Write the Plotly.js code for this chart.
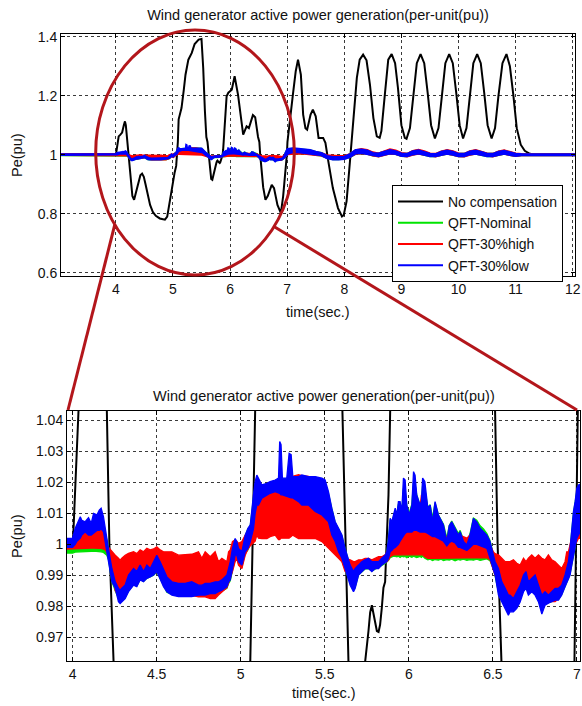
<!DOCTYPE html>
<html>
<head>
<meta charset="utf-8">
<script src="https://cdn.plot.ly/plotly-3.0.1.min.js"></script>
<style>html,body{margin:0;padding:0;background:#fff;}#chart{width:582px;height:706px;}</style>
</head>
<body>
<div id="chart"></div>
<script>
// ---- QFT controller traces: shared time base, upper/lower envelope of each noisy trace ----
const time = [3.04,3.5,3.97,4.0,4.016,4.026,4.046,4.055,4.075,4.095,
4.111,4.125,4.145,4.159,4.170,4.184,4.194,4.204,4.214,4.234,
4.254,4.273,4.283,4.293,4.313,4.333,4.363,4.382,4.402,4.422,
4.442,4.462,4.482,4.501,4.521,4.541,4.561,4.591,4.630,4.670,
4.709,4.749,4.769,4.789,4.819,4.848,4.868,4.888,4.918,4.928,
4.938,4.951,4.967,4.977,4.987,5.007,5.027,5.043,5.057,5.076,
5.086,5.096,5.106,5.126,5.156,5.175,5.205,5.225,5.232,5.240,
5.248,5.274,5.288,5.300,5.310,5.344,5.364,5.403,5.443,5.483,
5.502,5.522,5.542,5.562,5.582,5.602,5.621,5.651,5.671,5.681,
5.701,5.720,5.740,5.760,5.780,5.800,5.820,5.839,5.859,5.869,
5.879,5.889,5.899,5.909,5.919,5.929,5.938,5.948,5.958,5.968,
5.978,5.988,6.002,6.018,6.028,6.037,6.047,6.067,6.075,6.082,
6.095,6.113,6.127,6.141,6.156,6.176,6.192,6.206,6.226,6.240,
6.255,6.275,6.295,6.305,6.325,6.345,6.364,6.384,6.404,6.424,
6.444,6.464,6.483,6.503,6.513,6.533,6.553,6.573,6.592,6.602,
6.622,6.642,6.662,6.682,6.697,6.711,6.731,6.751,6.771,6.791,
6.810,6.830,6.850,6.870,6.890,6.909,6.929,6.939,6.949,6.959,
6.969,6.979,6.989,6.999,7.009,7.020,
7.05,7.1,7.2,7.3,7.4,7.5,7.6,7.7,7.8,7.9,8.0,8.1,8.2,8.3,8.4,8.5,8.6,8.7,8.8,8.9,
9.0,9.1,9.2,9.3,9.4,9.5,9.6,9.7,9.8,9.9,10.0,10.1,10.2,10.3,10.4,10.5,10.6,10.7,10.8,10.9,
11.0,11.1,11.2,11.5,12.04];

const lowHi = [1.0015,1.0015,1.0019,1.0020,1.0052,1.0065,1.0089,1.0078,1.0073,1.0086,
1.0068,1.0100,1.0095,1.0111,1.0117,1.0089,1.0052,1.0009,0.9985,0.9922,
0.9879,0.9858,0.9852,0.9858,0.9869,0.9901,0.9922,0.9912,0.9933,0.9912,
0.9933,0.9922,0.9944,0.9965,0.9944,0.9922,0.9895,0.9879,0.9874,0.9874,
0.9879,0.9868,0.9868,0.9874,0.9874,0.9879,0.9879,0.9885,0.9901,0.9922,
0.9944,0.9987,1.0019,1.0009,0.9987,0.9976,1.0030,1.0052,1.0063,1.0160,
1.0203,1.0224,1.0214,1.0192,1.0197,1.0203,1.0208,1.0214,1.0332,1.0322,
1.0214,1.0214,1.0294,1.0290,1.0219,1.0219,1.0224,1.0219,1.0219,1.0214,
1.0208,1.0170,1.0117,1.0073,1.0052,1.0030,0.9987,0.9933,0.9912,0.9922,
0.9933,0.9944,0.9950,0.9955,0.9944,0.9944,0.9944,0.9955,0.9965,0.9976,
1.0019,1.0084,1.0073,1.0095,1.0117,1.0095,1.0138,1.0138,1.0106,1.0214,
1.0208,1.0127,1.0095,1.0127,1.0235,1.0224,1.0160,1.0127,1.0140,1.0214,
1.0203,1.0117,1.0127,1.0073,1.0138,1.0095,1.0075,1.0063,1.0009,1.0060,
1.0073,1.0052,1.0030,1.0041,1.0009,0.9998,1.0030,1.0084,1.0073,1.0052,
1.0041,1.0030,1.0009,0.9966,0.9944,0.9922,0.9879,0.9858,0.9836,0.9836,
0.9825,0.9847,0.9868,0.9901,0.9912,0.9879,0.9890,0.9901,0.9868,0.9836,
0.9847,0.9836,0.9847,0.9858,0.9858,0.9868,0.9901,0.9920,0.9944,0.9987,
1.0052,1.0106,1.0138,1.0181,1.0192,1.0195,
1.021,1.022,1.020,1.018,1.016,1.010,1.006,0.996,0.992,0.992,0.993,1.002,1.016,1.018,1.014,1.006,1.004,1.010,1.016,1.012,
1.004,1.003,1.012,1.015,1.010,1.003,1.002,1.010,1.014,1.010,1.003,1.003,1.011,1.014,1.009,1.003,1.003,1.010,1.013,1.008,
1.003,1.002,1.0015,1.0015,1.0015];

const lowLo = [0.9990,0.9990,0.9992,0.9990,1.0000,1.0010,1.0020,1.0030,1.0041,1.0030,
1.0030,1.0035,1.0045,1.0045,1.0050,1.0040,1.0010,0.9980,0.9944,0.9879,
0.9858,0.9815,0.9809,0.9815,0.9825,0.9847,0.9868,0.9863,0.9885,0.9879,
0.9890,0.9895,0.9901,0.9912,0.9890,0.9863,0.9847,0.9836,0.9831,0.9831,
0.9831,0.9836,0.9836,0.9836,0.9841,0.9841,0.9847,0.9852,0.9863,0.9879,
0.9885,0.9922,0.9965,0.9965,0.9944,0.9933,0.9976,0.9987,1.0009,1.0050,
1.0100,1.0127,1.0127,1.0149,1.0160,1.0165,1.0170,1.0165,1.0165,1.0160,
1.0160,1.0155,1.0152,1.0150,1.0150,1.0138,1.0127,1.0127,1.0106,1.0095,
1.0084,1.0073,1.0030,1.0009,0.9976,0.9955,0.9922,0.9868,0.9847,0.9858,
0.9901,0.9912,0.9922,0.9922,0.9912,0.9922,0.9922,0.9933,0.9940,0.9944,
0.9955,0.9976,0.9980,0.9987,0.9990,0.9995,1.0000,1.0010,1.0020,1.0030,
1.0035,1.0040,1.0040,1.0040,1.0045,1.0045,1.0045,1.0040,1.0040,1.0040,
1.0040,1.0035,1.0030,1.0025,1.0025,1.0020,1.0015,1.0010,0.9995,1.0005,
1.0010,1.0005,0.9990,0.9990,0.9985,0.9980,0.9990,1.0000,1.0000,0.9995,
0.9990,0.9987,0.9955,0.9922,0.9901,0.9836,0.9814,0.9793,0.9771,0.9782,
0.9782,0.9793,0.9814,0.9847,0.9858,0.9836,0.9847,0.9836,0.9814,0.9775,
0.9803,0.9810,0.9814,0.9820,0.9820,0.9836,0.9863,0.9875,0.9890,0.9901,
0.9933,0.9966,0.9987,1.0019,1.0030,1.0040,
1.006,1.008,1.008,1.006,1.004,1.000,0.998,0.988,0.984,0.984,0.985,0.992,1.004,1.006,1.003,0.998,0.995,1.000,1.004,1.002,
0.996,0.995,1.001,1.004,1.000,0.995,0.995,1.000,1.003,1.000,0.995,0.995,1.001,1.003,1.000,0.995,0.995,1.000,1.003,0.999,
0.996,0.998,0.9985,0.9985,0.9985];

const highHi = [1.0020,1.0020,1.0012,1.0015,1.0030,1.0045,1.0060,1.0055,1.0050,1.0060,
1.0050,1.0065,1.0060,1.0070,1.0070,1.0060,1.0030,1.0000,0.9990,0.9976,
0.9965,0.9955,0.9949,0.9955,0.9965,0.9971,0.9976,0.9970,0.9982,0.9976,
0.9987,0.9982,0.9985,0.9992,0.9982,0.9976,0.9976,0.9976,0.9965,0.9966,
0.9968,0.9976,0.9955,0.9976,0.9960,0.9976,0.9944,0.9955,0.9944,0.9976,
0.9982,1.0009,1.0015,1.0010,1.0003,1.0009,1.0030,1.0040,1.0060,1.0100,
1.0140,1.0160,1.0170,1.0160,1.0165,1.0170,1.0180,1.0180,1.0180,1.0180,
1.0185,1.0190,1.0195,1.0200,1.0220,1.0225,1.0222,1.0220,1.0200,1.0190,
1.0170,1.0150,1.0100,1.0060,1.0040,1.0009,0.9955,0.9950,0.9944,0.9944,
0.9950,0.9950,0.9955,0.9955,0.9950,0.9955,0.9960,0.9960,0.9966,0.9976,
0.9990,1.0020,1.0030,1.0040,1.0050,1.0060,1.0070,1.0075,1.0080,1.0090,
1.0100,1.0110,1.0080,1.0100,1.0120,1.0120,1.0110,1.0120,1.0160,1.0130,
1.0110,1.0100,1.0090,1.0070,1.0080,1.0060,1.0050,1.0040,1.0020,1.0040,
1.0040,1.0035,1.0030,1.0030,1.0025,1.0020,1.0030,1.0040,1.0045,1.0040,
1.0035,1.0020,1.0000,0.9975,0.9970,0.9966,0.9955,0.9944,0.9944,0.9944,
0.9950,0.9939,0.9933,0.9955,0.9944,0.9955,0.9966,0.9955,0.9966,0.9955,
0.9950,0.9966,0.9950,0.9944,0.9933,0.9922,0.9944,0.9976,0.9976,1.0000,
1.0020,1.0050,1.0070,1.0073,1.0080,1.0080,
1.012,1.014,1.014,1.013,1.012,1.008,1.005,0.998,0.996,0.996,0.996,1.002,1.015,1.019,1.016,1.008,1.004,1.011,1.018,1.014,
1.006,1.003,1.013,1.017,1.012,1.004,1.003,1.011,1.016,1.012,1.004,1.003,1.012,1.016,1.011,1.004,1.003,1.011,1.015,1.010,
1.004,1.002,1.0015,1.0015,1.0015];

const highLo = [0.9988,0.9988,0.9985,0.9986,0.9987,0.9987,0.9987,0.9987,0.9987,0.9988,
0.9988,0.9988,0.9988,0.9988,0.9987,0.9985,0.9982,0.9975,0.9955,0.9922,
0.9850,0.9836,0.9840,0.9840,0.9850,0.9860,0.9880,0.9880,0.9900,0.9895,
0.9900,0.9900,0.9915,0.9920,0.9900,0.9880,0.9860,0.9850,0.9840,0.9835,
0.9835,0.9830,0.9830,0.9830,0.9825,0.9825,0.9836,0.9845,0.9860,0.9875,
0.9890,0.9912,0.9944,0.9955,0.9933,0.9922,0.9965,0.9985,0.9995,1.0005,
1.0010,1.0030,1.0020,1.0019,1.0019,1.0025,1.0030,1.0015,1.0015,1.0020,
1.0020,1.0019,1.0020,1.0025,1.0030,1.0019,1.0019,1.0019,1.0019,1.0009,
0.9998,0.9987,0.9976,0.9966,0.9955,0.9944,0.9912,0.9905,0.9900,0.9915,
0.9920,0.9920,0.9925,0.9925,0.9920,0.9925,0.9930,0.9935,0.9940,0.9944,
0.9950,0.9960,0.9963,0.9966,0.9966,0.9966,0.9966,0.9966,0.9966,0.9966,
0.9966,0.9966,0.9966,0.9966,0.9966,0.9966,0.9966,0.9966,0.9966,0.9966,
0.9960,0.9955,0.9955,0.9955,0.9955,0.9955,0.9955,0.9955,0.9955,0.9955,
0.9955,0.9955,0.9955,0.9955,0.9955,0.9955,0.9955,0.9955,0.9955,0.9955,
0.9957,0.9957,0.9950,0.9920,0.9900,0.9880,0.9850,0.9840,0.9830,0.9825,
0.9830,0.9840,0.9850,0.9870,0.9880,0.9865,0.9870,0.9865,0.9850,0.9835,
0.9830,0.9820,0.9815,0.9815,0.9825,0.9850,0.9870,0.9885,0.9900,0.9912,
0.9940,0.9976,1.0000,1.0009,1.0019,1.0020,
1.003,1.004,1.004,1.003,1.002,0.999,0.997,0.990,0.988,0.987,0.988,0.993,1.003,1.005,1.003,0.997,0.994,0.999,1.004,1.002,
0.996,0.994,1.000,1.003,1.000,0.995,0.994,1.000,1.003,1.000,0.995,0.994,1.000,1.003,1.000,0.995,0.994,1.000,1.003,0.999,
0.996,0.998,0.9985,0.9985,0.9985];

const nomHi = [1.0012,1.0012,1.0010,1.0012,1.0030,1.0040,1.0060,1.0055,1.0050,1.0060,
1.0050,1.0065,1.0060,1.0070,1.0075,1.0060,1.0035,1.0005,0.9990,0.9925,
0.9880,0.9860,0.9855,0.9860,0.9870,0.9900,0.9920,0.9910,0.9930,0.9912,
0.9930,0.9922,0.9940,0.9960,0.9940,0.9920,0.9895,0.9880,0.9874,0.9874,
0.9879,0.9868,0.9868,0.9874,0.9874,0.9879,0.9879,0.9885,0.9901,0.9922,
0.9944,0.9985,1.0015,1.0005,0.9985,0.9976,1.0028,1.0050,1.0060,1.0150,
1.0190,1.0200,1.0205,1.0190,1.0195,1.0200,1.0205,1.0210,1.0210,1.0210,
1.0210,1.0210,1.0212,1.0212,1.0215,1.0215,1.0218,1.0215,1.0212,1.0208,
1.0200,1.0165,1.0115,1.0070,1.0050,1.0028,0.9985,0.9930,0.9912,0.9920,
0.9932,0.9942,0.9950,0.9953,0.9944,0.9944,0.9944,0.9955,0.9965,0.9975,
1.0015,1.0080,1.0070,1.0090,1.0110,1.0095,1.0130,1.0132,1.0105,1.0180,
1.0175,1.0125,1.0100,1.0130,1.0200,1.0195,1.0160,1.0125,1.0140,1.0190,
1.0180,1.0120,1.0128,1.0085,1.0135,1.0095,1.0080,1.0065,1.0020,1.0060,
1.0075,1.0055,1.0035,1.0045,1.0015,1.0005,1.0035,1.0085,1.0078,1.0060,
1.0050,1.0035,1.0012,0.9968,0.9945,0.9920,0.9880,0.9858,0.9840,0.9845,
0.9830,0.9850,0.9870,0.9900,0.9910,0.9880,0.9890,0.9900,0.9870,0.9840,
0.9850,0.9840,0.9850,0.9860,0.9860,0.9870,0.9900,0.9920,0.9945,0.9985,
1.0045,1.0100,1.0135,1.0170,1.0185,1.0190,
1.019,1.020,1.019,1.017,1.015,1.009,1.006,0.996,0.992,0.992,0.993,1.002,1.015,1.017,1.014,1.006,1.004,1.010,1.016,1.012,
1.004,1.003,1.012,1.015,1.010,1.003,1.002,1.010,1.014,1.010,1.003,1.003,1.011,1.014,1.009,1.003,1.003,1.010,1.013,1.008,
1.003,1.002,1.0015,1.0015,1.0015];

const nomLo = [0.9985,0.9985,0.9972,0.9972,0.9975,0.9975,0.9975,0.9976,0.9976,0.9977,
0.9977,0.9978,0.9978,0.9978,0.9976,0.9974,0.9970,0.9965,0.9950,0.9880,
0.9850,0.9825,0.9830,0.9822,0.9830,0.9850,0.9870,0.9865,0.9888,0.9880,
0.9890,0.9895,0.9900,0.9912,0.9890,0.9865,0.9845,0.9838,0.9835,0.9833,
0.9833,0.9838,0.9837,0.9835,0.9838,0.9838,0.9843,0.9848,0.9858,0.9874,
0.9882,0.9915,0.9950,0.9958,0.9938,0.9928,0.9970,0.9982,1.0000,1.0030,
1.0060,1.0090,1.0100,1.0120,1.0130,1.0135,1.0140,1.0135,1.0135,1.0130,
1.0130,1.0125,1.0122,1.0120,1.0120,1.0110,1.0100,1.0100,1.0085,1.0075,
1.0065,1.0050,1.0010,0.9985,0.9960,0.9945,0.9918,0.9875,0.9855,0.9862,
0.9902,0.9912,0.9920,0.9922,0.9914,0.9920,0.9925,0.9932,0.9938,0.9942,
0.9948,0.9957,0.9960,0.9962,0.9961,0.9960,0.9962,0.9958,0.9962,0.9960,
0.9961,0.9957,0.9962,0.9958,0.9962,0.9960,0.9957,0.9961,0.9958,0.9962,
0.9955,0.9950,0.9952,0.9948,0.9951,0.9949,0.9952,0.9948,0.9951,0.9949,
0.9952,0.9947,0.9951,0.9949,0.9952,0.9948,0.9951,0.9949,0.9952,0.9948,
0.9950,0.9953,0.9947,0.9920,0.9898,0.9845,0.9822,0.9805,0.9790,0.9795,
0.9797,0.9805,0.9822,0.9852,0.9862,0.9842,0.9850,0.9842,0.9820,0.9785,
0.9808,0.9812,0.9815,0.9818,0.9822,0.9838,0.9862,0.9875,0.9890,0.9905,
0.9935,0.9970,0.9990,1.0015,1.0025,1.0030,
1.004,1.005,1.005,1.004,1.003,0.999,0.997,0.989,0.985,0.985,0.986,0.992,1.003,1.005,1.003,0.997,0.995,1.000,1.004,1.002,
0.996,0.995,1.001,1.004,1.000,0.995,0.995,1.000,1.003,1.000,0.995,0.995,1.001,1.003,1.000,0.995,0.995,1.000,1.003,0.999,
0.996,0.998,0.9985,0.9985,0.9985];

// ---- No compensation ----
const timeBlack = [3.04,3.9,4.0,4.005,4.02,4.03,4.05,4.08,4.11,4.14,4.16,4.175,4.19,4.204,4.219,4.234,4.26,4.29,4.32,4.36,
4.40,4.43,4.46,4.49,4.52,4.56,4.60,4.65,4.70,4.77,4.86,4.90,4.945,4.98,5.03,5.057,5.071,5.086,5.10,5.15,
5.19,5.22,5.27,5.33,5.38,5.45,5.50,5.53,5.56,5.585,5.605,5.623,5.641,5.67,5.69,5.715,5.740,5.760,5.770,5.780,
5.796,5.810,5.820,5.829,5.839,5.849,5.859,5.869,5.879,5.889,5.91,5.94,5.97,6.03,6.08,6.14,6.20,6.23,6.29,6.33,
6.40,6.44,6.49,6.513,6.528,6.543,6.58,6.62,6.66,6.73,6.77,6.83,6.89,6.93,6.96,6.985,6.995,7.005,7.05,7.10,
7.15,7.19,7.24,7.28,7.32,7.35,7.41,7.45,7.50,7.55,7.63,7.67,7.72,7.80,7.89,7.96,7.99,8.04,8.10,8.16,
8.22,8.27,8.33,8.39,8.45,8.51,8.57,8.62,8.65,8.71,8.77,8.83,8.89,8.94,9.00,9.06,9.09,9.15,9.21,9.27,
9.336,9.40,9.46,9.52,9.587,9.65,9.71,9.77,9.837,9.90,9.96,10.02,10.08,10.14,10.20,10.26,10.327,10.39,10.45,10.51,
10.58,10.64,10.70,10.77,10.84,10.90,10.96,11.02,11.09,11.16,11.25,11.35,12.04];
const noComp = [1.0,1.0,1.0,1.004,1.03,1.045,1.062,1.068,1.075,1.100,1.113,1.10,1.07,1.043,1.0,0.962,0.905,0.86,0.847,0.88,
0.91,0.93,0.936,0.925,0.90,0.86,0.83,0.805,0.793,0.784,0.78,0.79,0.842,0.89,0.94,0.962,1.0,1.043,1.12,1.158,
1.22,1.271,1.322,1.345,1.375,1.39,1.392,1.294,1.147,1.06,1.043,1.0,0.962,0.918,0.915,0.94,0.962,0.972,0.978,0.9803,
0.976,0.972,0.9717,0.974,0.9793,0.986,0.9879,0.9998,1.016,1.043,1.10,1.198,1.21,1.22,1.266,1.203,1.113,1.068,1.096,1.09,
1.134,1.127,1.06,1.043,1.0,0.962,0.89,0.847,0.86,0.898,0.887,0.83,0.802,0.86,0.93,0.962,1.0,1.043,1.13,1.203,
1.283,1.322,1.271,1.136,1.09,1.085,1.136,1.153,1.13,1.057,1.057,1.04,0.978,0.887,0.819,0.791,0.795,0.842,0.978,1.136,
1.26,1.322,1.339,1.32,1.237,1.124,1.062,1.057,1.08,1.203,1.322,1.341,1.31,1.226,1.10,1.057,1.054,1.09,1.20,1.31,
1.341,1.31,1.21,1.10,1.055,1.09,1.20,1.31,1.341,1.31,1.21,1.10,1.055,1.09,1.20,1.31,1.341,1.31,1.21,1.10,
1.055,1.09,1.20,1.31,1.341,1.30,1.203,1.09,1.034,1.013,1.003,1.0,1.0];

const seriesNames = ['No compensation','QFT-Nominal','QFT-30%high','QFT-30%low'];
const seriesColors = ['#000000','#00e400','#ff0000','#0000ff'];
const titleText = 'Wind generator active power generation(per-unit(pu))';
const topXTicks = [4,5,6,7,8,9,10,11,12];
const topYTicks = [0.6,0.8,1,1.2,1.4];
const botXTicks = [4,4.5,5,5.5,6,6.5,7];
const botYTicks = [0.97,0.98,0.99,1,1.01,1.02,1.03,1.04];

const W = 582, H = 706;
const px = v => v / W, py = v => 1 - v / H;
const FONT = 'Liberation Sans, Arial, Helvetica, sans-serif';

const bands = [
  {name: seriesNames[1], color: seriesColors[1], hi: nomHi, lo: nomLo},
  {name: seriesNames[2], color: seriesColors[2], hi: highHi, lo: highLo},
  {name: seriesNames[3], color: seriesColors[3], hi: lowHi, lo: lowLo}
];

const traces = [];
[['x','y',true,2.0,2.0],['x2','y2',false,2.0,1.3]].forEach(([xa, ya, leg, bw, ew]) => {
  traces.push({x: timeBlack, y: noComp, xaxis: xa, yaxis: ya, type: 'scatter', mode: 'lines',
    name: seriesNames[0], showlegend: leg, legendgroup: 'nc',
    line: {color: seriesColors[0], width: bw}, hoverinfo: 'skip'});
  bands.forEach((b, i) => {
    traces.push({x: time, y: b.lo, xaxis: xa, yaxis: ya, type: 'scatter', mode: 'lines',
      name: b.name, showlegend: leg, legendgroup: 'g' + i,
      line: {color: b.color, width: ew}, hoverinfo: 'skip'});
    traces.push({x: time, y: b.hi, xaxis: xa, yaxis: ya, type: 'scatter', mode: 'lines',
      name: b.name, showlegend: false, legendgroup: 'g' + i, fill: 'tonexty', fillcolor: b.color,
      line: {color: b.color, width: ew}, hoverinfo: 'skip'});
  });
});

const axisCommon = {
  showline: true, linecolor: '#000', linewidth: 1, mirror: 'ticks',
  ticks: 'inside', ticklen: 4, tickcolor: '#000', tickwidth: 1,
  showgrid: true, gridcolor: '#3a3a3a', griddash: '3px,3px', gridwidth: 1,
  zeroline: false, fixedrange: true,
  tickfont: {family: FONT, size: 14, color: '#111'}
};

const red = '#b3161b';
const layout = {
  width: W, height: H, margin: {l: 0, r: 0, t: 0, b: 0},
  paper_bgcolor: '#fff', plot_bgcolor: '#fff',
  font: {family: FONT, color: '#111'},
  title: {text: titleText, x: px(318), y: py(15), xanchor: 'center', yanchor: 'middle',
          xref: 'paper', yref: 'paper', font: {family: FONT, size: 14.5, color: '#111'}},
  xaxis: Object.assign({}, axisCommon, {domain: [px(61), px(575)], range: [3.04, 12.04], anchor: 'y',
          tickvals: topXTicks, ticktext: topXTicks.map(String)}),
  yaxis: Object.assign({}, axisCommon, {domain: [py(276), py(34)], range: [0.589, 1.409], anchor: 'x',
          tickvals: topYTicks, ticktext: topYTicks.map(String)}),
  xaxis2: Object.assign({}, axisCommon, {domain: [px(67), px(580)], range: [3.967, 7.018], anchor: 'y2',
          tickvals: botXTicks, ticktext: botXTicks.map(String)}),
  yaxis2: Object.assign({}, axisCommon, {domain: [py(661), py(411)], range: [0.9623, 1.0431], anchor: 'x2',
          tickvals: botYTicks, ticktext: botYTicks.map(String)}),
  showlegend: true,
  legend: {x: px(392), y: py(185), xanchor: 'left', yanchor: 'top', bgcolor: '#fff',
           bordercolor: '#000', borderwidth: 1, tracegroupgap: 0, traceorder: 'normal',
           itemwidth: 45, entrywidth: 175,
           font: {family: FONT, size: 14, color: '#111'}},
  annotations: [
    {text: titleText, xref: 'paper', yref: 'paper', x: px(323.5), y: py(396), xanchor: 'center', yanchor: 'middle',
     showarrow: false, font: {family: FONT, size: 14.5, color: '#111'}},
    {text: 'time(sec.)', xref: 'paper', yref: 'paper', x: px(318), y: py(312), xanchor: 'center', yanchor: 'middle',
     showarrow: false, font: {family: FONT, size: 14.5, color: '#111'}},
    {text: 'time(sec.)', xref: 'paper', yref: 'paper', x: px(323.5), y: py(693), xanchor: 'center', yanchor: 'middle',
     showarrow: false, font: {family: FONT, size: 14.5, color: '#111'}},
    {text: 'Pe(pu)', xref: 'paper', yref: 'paper', x: px(17), y: py(155), xanchor: 'center', yanchor: 'middle',
     textangle: -90, showarrow: false, font: {family: FONT, size: 14.5, color: '#111'}},
    {text: 'Pe(pu)', xref: 'paper', yref: 'paper', x: px(17), y: py(536), xanchor: 'center', yanchor: 'middle',
     textangle: -90, showarrow: false, font: {family: FONT, size: 14.5, color: '#111'}}
  ],
  shapes: [
    {type: 'circle', xref: 'paper', yref: 'paper', x0: px(95.7), x1: px(294.3), y0: py(275), y1: py(30),
     line: {color: red, width: 3}, layer: 'above'},
    {type: 'line', xref: 'paper', yref: 'paper', x0: px(114.8), y0: py(224.7), x1: px(68), y1: py(410),
     line: {color: red, width: 3}, layer: 'above'},
    {type: 'line', xref: 'paper', yref: 'paper', x0: px(273.5), y0: py(226.3), x1: px(577), y1: py(410),
     line: {color: red, width: 3}, layer: 'above'}
  ]
};

Plotly.newPlot('chart', traces, layout, {staticPlot: true, displayModeBar: false});
</script>
</body>
</html>
